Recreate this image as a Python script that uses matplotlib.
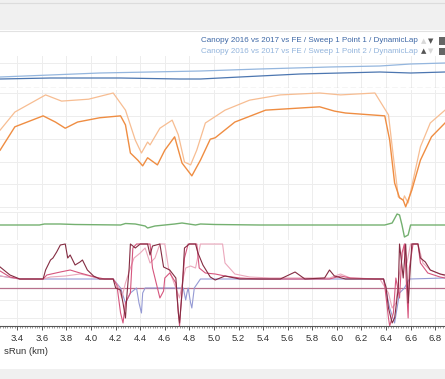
import matplotlib
matplotlib.use("Agg")
import matplotlib.pyplot as plt
from matplotlib.patches import Rectangle
import numpy as np

plt.rcParams['font.family'] = ['Liberation Sans', 'DejaVu Sans']

# ---------------- data ----------------
x_range = (3.259, 6.880)
tick_km = [3.4, 3.6, 3.8, 4.0, 4.2, 4.4, 4.6, 4.8, 5.0, 5.2, 5.4, 5.6, 5.8, 6.0, 6.2, 6.4, 6.6, 6.8]
tick_labels = ["3.4", "3.6", "3.8", "4.0", "4.2", "4.4", "4.6", "4.8", "5.0", "5.2",
               "5.4", "5.6", "5.8", "6.0", "6.2", "6.4", "6.6", "6.8"]
x_label = "sRun (km)"
legend_names = ["Canopy 2016 vs 2017 vs FE / Sweep 1 Point 1 / DynamicLap",
                "Canopy 2016 vs 2017 vs FE / Sweep 1 Point 2 / DynamicLap"]

# blue panel (arbitrary units)
blue1_km = [3.26, 3.67, 4.24, 4.72, 4.89, 5.21, 5.70, 6.03, 6.35, 6.60, 6.88]
blue1_val = [9, 10, 10, 9, 9, 11, 14, 15, 16, 15, 16]
blue2_km = [3.26, 4.07, 4.48, 4.89, 5.37, 5.94, 6.35, 6.60, 6.88]
blue2_val = [11, 15, 16, 17, 19, 21, 22, 24, 25]

# orange panel: speed (km/h)
or1_km = [3.26, 3.38, 3.61, 3.71, 3.79, 3.89, 4.07, 4.24, 4.28, 4.32, 4.38, 4.42, 4.46,
          4.54, 4.60, 4.68, 4.74, 4.82, 4.89, 4.97, 5.01, 5.17, 5.42, 5.86, 5.98, 6.07,
          6.39, 6.43, 6.47, 6.51, 6.54, 6.56, 6.61, 6.68, 6.77, 6.88]
or1_val = [180, 229, 252, 239, 226, 239, 248, 252, 233, 174, 159, 147, 164,
           149, 180, 208, 153, 126, 159, 203, 206, 239, 264, 271, 262, 258,
           252, 201, 111, 80, 75, 61, 96, 159, 208, 237]
or2_km = [3.26, 3.38, 3.63, 3.76, 3.98, 4.18, 4.28, 4.36, 4.41, 4.46, 4.48, 4.56, 4.66,
          4.71, 4.76, 4.81, 4.86, 4.93, 5.09, 5.29, 5.54, 5.86, 6.03, 6.31, 6.42, 6.46,
          6.50, 6.54, 6.55, 6.58, 6.68, 6.76, 6.88]
or2_val = [222, 260, 296, 283, 287, 300, 264, 201, 174, 197, 191, 226, 243,
           212, 155, 149, 180, 237, 264, 285, 296, 300, 296, 300, 254, 166,
           82, 75, 84, 69, 187, 237, 264]

# green panel
gr_km = [3.26, 3.58, 3.62, 3.75, 3.87, 4.24, 4.28, 4.36, 4.44, 4.46, 4.52, 4.68, 4.74,
         4.85, 4.89, 5.01, 5.37, 6.39, 6.45, 6.49, 6.51, 6.53, 6.55, 6.58, 6.60, 6.88]
gr_val = [0, 0, 1, 1, 0.5, 0, 1.5, 1, -1, -3, -1, 1, 2,
          0, 1, 0.5, 0, 0, 2, 11, 10, 0, -12, -10, 0, 0]

# pink panel: four channels
p1_km = [3.26, 3.34, 3.42, 3.61, 3.63, 3.67, 3.69, 3.72, 3.75, 3.79, 3.81, 3.83, 3.87,
         3.91, 3.93, 3.97, 4.02, 4.07, 4.18, 4.20, 4.24, 4.26, 4.28, 4.29, 4.31, 4.32,
         4.36, 4.40, 4.46, 4.48, 4.50, 4.56, 4.59, 4.64, 4.69, 4.71, 4.72, 4.74, 4.76,
         4.80, 4.85, 4.87, 4.91, 4.97, 5.01, 5.09, 5.21, 5.54, 5.66, 5.74, 5.90, 5.94,
         5.98, 6.07, 6.38, 6.40, 6.42, 6.45, 6.47, 6.50, 6.51, 6.54, 6.56, 6.58, 6.61,
         6.66, 6.68, 6.72, 6.76, 6.84, 6.88]
p1_val = [21, 13, 9, 9, 18, 28, 30, 36, 43, 44, 30, 33, 23,
          26, 28, 18, 12, 9, 9, 0, -2, -15, -30, -10, 20, 44,
          40, 44, 44, 33, 42, 44, 21, 18, 10, -25, -35, -5, 40,
          44, 44, 35, 23, 11, 8, 12, 9, 9, 16, 9, 10, 18,
          12, 9, 9, 1, -20, -35, -30, 0, 44, 10, 44, -15, 44,
          44, 30, 26, 18, 14, 13]
p2_km = [3.26, 3.34, 3.42, 3.61, 3.64, 3.75, 3.83, 3.91, 4.03, 4.11, 4.18, 4.21, 4.24,
         4.26, 4.28, 4.32, 4.34, 4.37, 4.48, 4.50, 4.53, 4.56, 4.59, 4.60, 4.64, 4.69,
         4.72, 4.73, 4.76, 4.79, 4.86, 4.88, 4.93, 5.01, 5.09, 5.21, 5.37, 5.94, 6.03,
         6.11, 6.31, 6.38, 6.39, 6.42, 6.43, 6.46, 6.48, 6.51, 6.53, 6.55, 6.58, 6.59,
         6.62, 6.66, 6.68, 6.74, 6.84, 6.88]
p2_val = [17, 11, 9, 9, 13, 16, 18, 15, 11, 9, 9, 3, -25,
          -35, -15, -5, 40, 44, 44, 20, 5, -10, -3, 10, 15, 5,
          -38, -20, 30, 44, 44, 20, 15, 14, 12, 10, 9, 9, 12,
          10, 9, 9, 2, -30, -38, -25, 10, -10, 35, 44, -30, 20,
          44, 44, 25, 15, 11, 10]
p3_km = [3.26, 3.42, 3.61, 3.67, 3.79, 3.91, 3.99, 4.07, 4.18, 4.22, 4.25, 4.28, 4.32,
         4.35, 4.40, 4.44, 4.48, 4.52, 4.56, 4.60, 4.63, 4.66, 4.69, 4.72, 4.75, 4.77,
         4.81, 4.85, 4.89, 5.07, 5.09, 5.17, 5.29, 5.46, 5.94, 6.03, 6.11, 6.35, 6.42,
         6.45, 6.48, 6.51, 6.55, 6.57, 6.60, 6.66, 6.70, 6.76, 6.88]
p3_val = [12, 9, 9, 11, 12, 14, 12, 9, 9, 2, -10, 5, 20,
          30, 35, 40, 25, 30, 44, 44, 20, 10, 0, -10, 10, 20,
          22, 20, 44, 44, 25, 14, 11, 10, 10, 14, 10, 9, -5,
          -20, -15, 15, 44, 25, 44, 44, 25, 18, 12]
p4_km = [3.26, 3.42, 4.18, 4.24, 4.28, 4.32, 4.37, 4.39, 4.41, 4.42, 4.44, 4.75, 4.77,
         4.78, 4.79, 4.81, 4.82, 4.84, 4.89, 6.38, 6.43, 6.47, 6.51, 6.55, 6.59, 6.88]
p4_val = [12, 9, 9, 0, -15, -5, 0, -15, -25, -5, 0, 0, -12,
          -5, 0, -15, -20, 0, 9, 9, -20, -35, -5, 0, 9, 10]

# ---------------- figure ----------------
W, H = 445, 379
fig = plt.figure(figsize=(W / 100, H / 100), dpi=100)
fig.patch.set_facecolor("white")

def fy(px):
    return 1 - px / H

# header / footer bands
fig.patches.append(Rectangle((0, fy(30)), 1, 30 / H, transform=fig.transFigure,
                             facecolor="#f0f0f0", edgecolor="none", zorder=0))
fig.add_artist(plt.Line2D([0, 1], [fy(3), fy(3)], transform=fig.transFigure,
                          color="#dcdcdc", lw=0.8))
fig.add_artist(plt.Line2D([0, 1], [fy(30.5), fy(30.5)], transform=fig.transFigure,
                          color="#e2e2e2", lw=0.8))
fig.patches.append(Rectangle((0, 0), 1, 10 / H, transform=fig.transFigure,
                             facecolor="#f0f0f0", edgecolor="none", zorder=0))

def panel(top, bottom, ylim, yticks):
    ax = fig.add_axes([0, fy(bottom), 1, (bottom - top) / H])
    ax.set_xlim(*x_range)
    ax.set_ylim(*ylim)
    ax.set_xticks(tick_km)
    ax.set_yticks(yticks)
    ax.grid(True, color="#ededed", lw=0.7)
    ax.set_axisbelow(True)
    ax.tick_params(left=False, labelleft=False, bottom=False, labelbottom=False)
    for s in ax.spines.values():
        s.set_visible(False)
    ax.patch.set_alpha(0)
    return ax

# blue panel
axb = panel(56, 88, (0, 32), [25])
axb.plot(blue2_km, blue2_val, color="#94b6de", lw=0.9)
axb.plot(blue1_km, blue1_val, color="#4c76b0", lw=0.9)
axb.axhline(0, color="#cccccc", lw=1.0, ls=(0, (4, 2)))

# orange panel
axo = panel(90, 210, (54.3, 306.3), [60, 108, 156, 204, 252, 300])
axo.plot(or2_km, or2_val, color="#f7bd92", lw=0.9)
axo.plot(or1_km, or1_val, color="#ef8d42", lw=1.0)

# green panel
axg = panel(212, 240, (-15, 13), [-15, 13])
axg.plot(gr_km, gr_val, color="#74b070", lw=1.0)

# pink panel
axp = panel(243, 326, (-38, 45), [-30, -12, 44])
axp.axhline(0, color="#b7708c", lw=0.9)
axp.plot(p4_km, p4_val, color="#959ad4", lw=0.8)
axp.plot(p3_km, p3_val, color="#eba8bc", lw=0.8)
axp.plot(p2_km, p2_val, color="#d6567e", lw=0.8)
axp.plot(p1_km, p1_val, color="#842c42", lw=0.8)

axp.spines["bottom"].set_visible(True)
axp.spines["bottom"].set_color("#555555")
axp.spines["bottom"].set_linewidth(0.8)
axp.tick_params(bottom=True, labelbottom=True, length=3, width=0.7, color="#555555",
                labelsize=6.8, labelcolor="#333333", pad=3)
axp.set_xticklabels(tick_labels)
axp.set_xticks(np.arange(3.26, 6.88, 0.02), minor=True)
axp.tick_params(which="minor", bottom=True, length=1.5, width=0.5, color="#777777")
axp.grid(True, which="major", color="#ededed", lw=0.7)

fig.text(4 / W, fy(352), x_label, fontsize=6.8, color="#333333", ha="left", va="center")

# legend texts
fig.text(418 / W, fy(41), legend_names[0], fontsize=5.8, color="#3e68a6",
         ha="right", va="center")
fig.text(418 / W, fy(51.5), legend_names[1], fontsize=5.8, color="#92b4dc",
         ha="right", va="center")
fig.text(421 / W, fy(41), "▲", fontsize=5, color="#d8d8d8", ha="left", va="center",
         family=["DejaVu Sans"])
fig.text(428 / W, fy(41), "▼", fontsize=5, color="#555555", ha="left", va="center",
         family=["DejaVu Sans"])
fig.text(421 / W, fy(51.5), "▲", fontsize=5, color="#555555", ha="left", va="center",
         family=["DejaVu Sans"])
fig.text(428 / W, fy(51.5), "▼", fontsize=5, color="#d8d8d8", ha="left", va="center",
         family=["DejaVu Sans"])
for yy in (41, 51.5):
    fig.patches.append(Rectangle((439 / W, fy(yy + 3.5)), 6 / W, 7 / H,
                                 transform=fig.transFigure, facecolor="#666666",
                                 edgecolor="none"))

fig.savefig("out.png", dpi=100)
